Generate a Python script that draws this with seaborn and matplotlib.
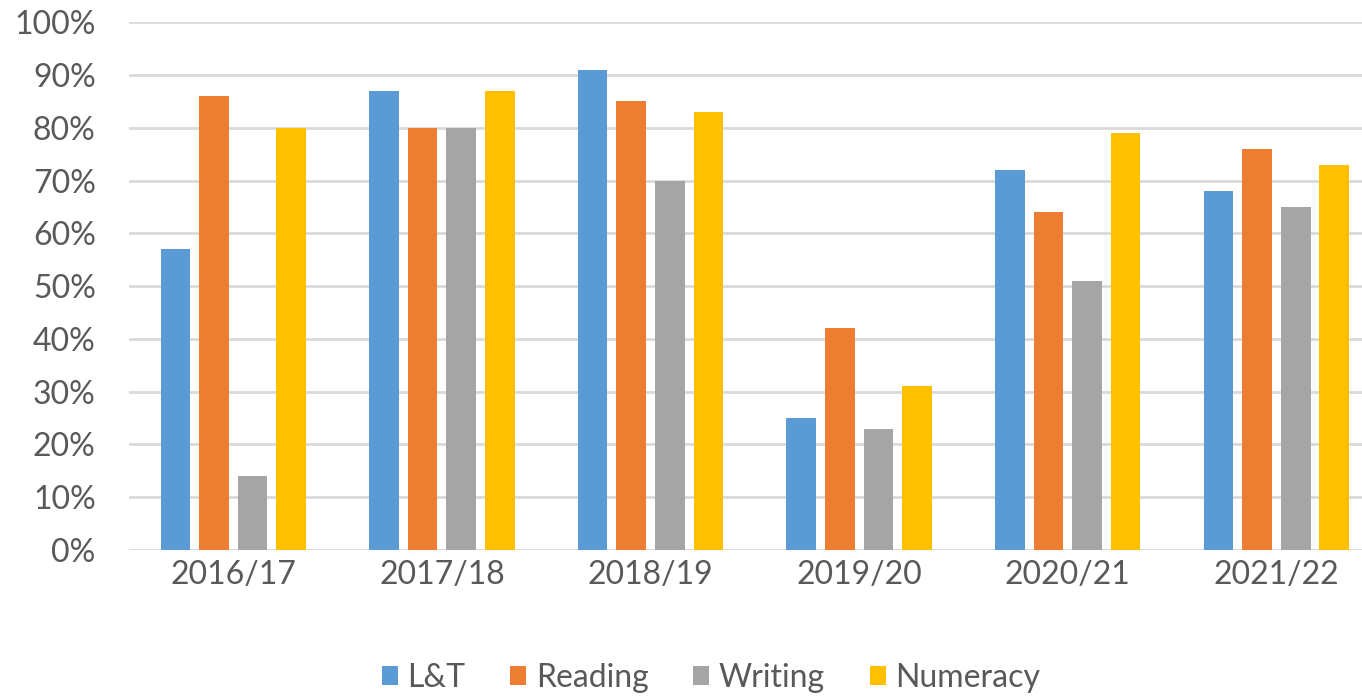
import pandas as pd
import numpy as np
import matplotlib
matplotlib.use('Agg')
import matplotlib.pyplot as plt
import seaborn as sns
from matplotlib.ticker import PercentFormatter

# data
years = ['2016/17', '2017/18', '2018/19', '2019/20', '2020/21', '2021/22']
series = ['L&T', 'Reading', 'Writing', 'Numeracy']
lt = [57, 87, 91, 25, 72, 68]
reading = [86, 80, 85, 42, 64, 76]
writing = [14, 80, 70, 23, 51, 65]
numeracy = [80, 87, 83, 31, 79, 73]

colors = ['#5B9BD5', '#ED7D31', '#A5A5A5', '#FFC000']
text_col = '#595959'
grid_col = '#D9D9D9'

df = pd.DataFrame({'Year': years, 'L&T': lt, 'Reading': reading,
                   'Writing': writing, 'Numeracy': numeracy})
long = df.melt(id_vars='Year', var_name='Series', value_name='Value')

sns.set_theme(style='white')
plt.rcParams['font.family'] = ['Lato', 'DejaVu Sans']

fig = plt.figure(figsize=(13.62, 6.98), dpi=100)
ax = fig.add_axes([0.0947, 0.212, 0.919, 0.756])

sns.barplot(data=long, x='Year', y='Value', hue='Series', hue_order=series,
            palette=colors, width=0.74, gap=0.23, saturation=1, ax=ax,
            legend=True, edgecolor='none')

ax.set_ylim(0, 100)
ax.set_xlim(-0.5, len(years) - 0.5)
ax.set_yticks(np.arange(0, 101, 10))
ax.yaxis.set_major_formatter(PercentFormatter(decimals=0))
ax.grid(axis='y', color=grid_col, linewidth=2)
ax.set_axisbelow(True)
for s in ax.spines.values():
    s.set_visible(False)
ax.set_xlabel('')
ax.set_ylabel('')
ax.tick_params(axis='both', length=0, labelsize=23, colors=text_col, pad=7)
ax.tick_params(axis='y', pad=24)

handles, labels = ax.get_legend_handles_labels()
ax.legend(handles, labels, loc='lower center', bbox_to_anchor=(0.465, -0.325),
          ncol=4, frameon=False, fontsize=23, labelcolor=text_col,
          handlelength=0.5, handleheight=0.5, handletextpad=0.3, columnspacing=1.4)

fig.savefig('out.png', dpi=100)
